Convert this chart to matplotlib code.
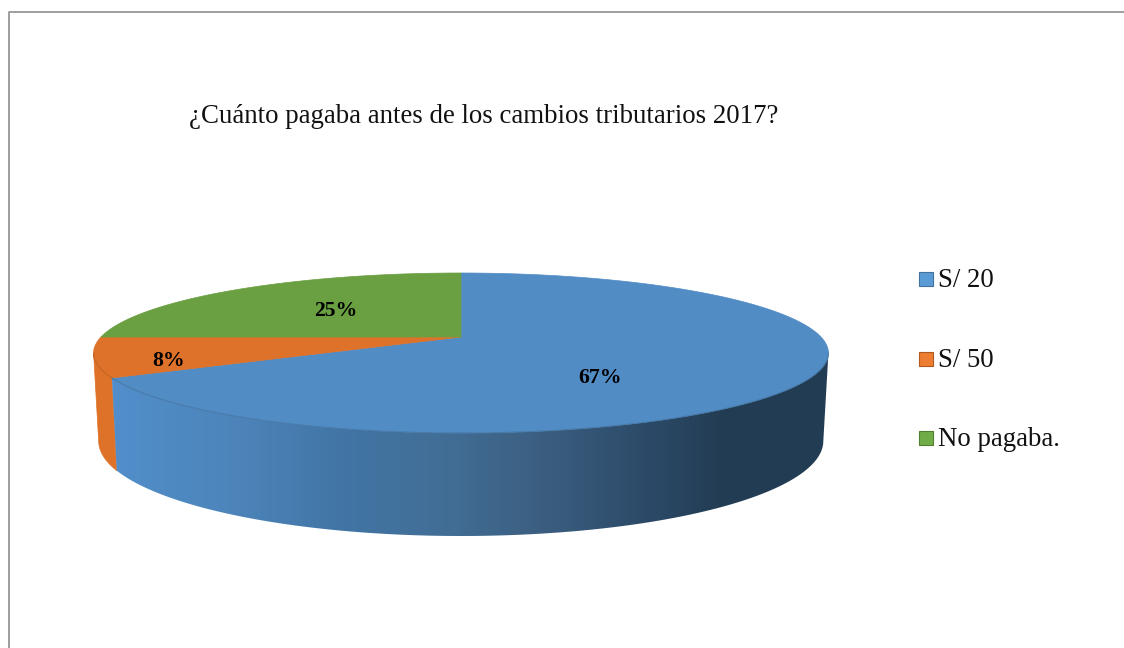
import numpy as np
import matplotlib
matplotlib.use('Agg')
import matplotlib.pyplot as plt
from matplotlib.colors import LinearSegmentedColormap
from matplotlib.patches import Polygon, Rectangle

plt.rcParams['font.family'] = ['Liberation Serif', 'DejaVu Serif']

titulo = '¿Cuánto pagaba antes de los cambios tributarios 2017?'
categorias = ['S/ 20', 'S/ 50', 'No pagaba.']
valores = [67, 8, 25]
etiquetas = ['67%', '8%', '25%']
colores_top = ['#528CC5', '#DF722A', '#6A9F42']
colores_lado = ['#528CC5', '#DD7228', '#6A9F42']
colores_leyenda = ['#5B9BD5', '#ED7D31', '#70AD47']
bordes_leyenda = ['#41719C', '#AE5A21', '#507E32']

W, H = 1124, 648
fig = plt.figure(figsize=(W / 100, H / 100), dpi=100)
ax = fig.add_axes([0, 0, 1, 1])
ax.set_xlim(0, W)
ax.set_ylim(H, 0)
ax.axis('off')

# marco del grafico
ax.plot([9.2, 9.2, W], [H, 11.7, 11.7], color='#8E8E8E', lw=1.2)


# circulo unidad -> elipse con perspectiva (el centro cae en el vertice)
def arriba(t):
    u, v = np.sin(t), np.cos(t)
    d = 1 + 0.2 * v
    return 461 + 360 * u / d, (337 - 9.4 * v) / d


def abajo(t):
    u, v = np.sin(t), np.cos(t)
    d = 1 + 0.2 * v
    return 461 + 355 * u / d, (422 - 6.8 * v) / d


fracc = np.cumsum([0] + valores) / sum(valores)
angs = 2 * np.pi * fracc
# puntos de silueta de la elipse (derecha e izquierda)
sil_der = np.arccos(-0.2)
sil_izq = 2 * np.pi - sil_der

# lado naranja y lado azul (solo la parte visible, por delante)
t = np.linspace(angs[1], min(angs[2], sil_izq), 60)
xa, ya = arriba(t)
xb, yb = abajo(t)
ax.add_patch(Polygon(np.r_[np.c_[xa, ya], np.c_[xb, yb][::-1]], fc=colores_lado[1], ec=colores_lado[1], lw=0.5, zorder=2))

t = np.linspace(sil_der, angs[1], 200)
xa, ya = arriba(t)
xb, yb = abajo(t)
lado = Polygon(np.r_[np.c_[xa, ya], np.c_[xb, yb][::-1]], fc='none', ec='none', zorder=2)
ax.add_patch(lado)
cmap = LinearSegmentedColormap.from_list('lado', [(0, '#528FCC'), (0.19, '#4C84B9'), (0.33, '#4175A5'),
                                                  (0.47, '#426E96'), (0.61, '#3B5E80'), (0.75, '#2C4A68'),
                                                  (0.85, '#233D54'), (1, '#223C55')])
grad = ax.imshow(np.linspace(0, 1, 400)[None, :], extent=(100, 830, 540, 300), cmap=cmap, aspect='auto', zorder=2)
grad.set_clip_path(lado)
ax.set_xlim(0, W)
ax.set_ylim(H, 0)

# cara superior
for i in range(3):
    t = np.linspace(angs[i], angs[i + 1], 200)
    x, y = arriba(t)
    pts = np.r_[[[461, 337]], np.c_[x, y]]
    ax.add_patch(Polygon(pts, fc=colores_top[i], ec=colores_top[i], lw=0.5, zorder=3))

# borde de la cara superior sobre el lado
t = np.linspace(sil_der, angs[1], 200)
x, y = arriba(t)
ax.plot(x, y, color='#41719C', lw=0.8, alpha=0.7, zorder=4)
t = np.linspace(angs[1], sil_izq, 40)
x, y = arriba(t)
ax.plot(x, y, color='#B85F22', lw=0.8, alpha=0.7, zorder=4)

pos_etiq = [(600, 383), (169, 366), (336, 316)]
for e, p in zip(etiquetas, pos_etiq):
    ax.text(p[0], p[1], e, ha='center', va='baseline', fontsize=15.7, fontweight='bold', color='black', zorder=5)

ax.text(484, 123, titulo, ha='center', va='baseline', fontsize=19.4, color='#111111')

# leyenda
for nombre, c, b, yc, yt in zip(categorias, colores_leyenda, bordes_leyenda, [279, 358.5, 438], [287, 367, 446]):
    ax.add_patch(Rectangle((919, yc - 7), 14, 14, fc=c, ec=b, lw=0.8))
    ax.text(938, yt, nombre, ha='left', va='baseline', fontsize=19.3, color='#111111')

fig.savefig('out.png', dpi=100)
